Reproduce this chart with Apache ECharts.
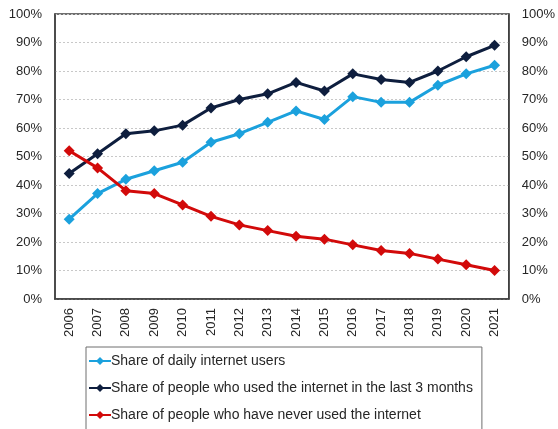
<!DOCTYPE html>
<html>
<head>
<meta charset="utf-8">
<script src="https://cdn.jsdelivr.net/npm/echarts@6/dist/echarts.min.js"></script>
<style>
  html, body { margin: 0; padding: 0; background: #fff; }
  #chart { width: 558px; height: 429px; }
</style>
</head>
<body>
<div id="chart"></div>
<script>
const years = ['2006','2007','2008','2009','2010','2011','2012','2013','2014','2015','2016','2017','2018','2019','2020','2021'];
const dailyUsers = [28, 37, 42, 45, 48, 55, 58, 62, 66, 63, 71, 69, 69, 75, 79, 82];
const last3Months = [44, 51, 58, 59, 61, 67, 70, 72, 76, 73, 79, 77, 76, 80, 85, 89];
const neverUsed = [52, 46, 38, 37, 33, 29, 26, 24, 22, 21, 19, 17, 16, 14, 12, 10];
const seriesNames = [
  'Share of daily internet users',
  'Share of people who used the internet in the last 3 months',
  'Share of people who have never used the internet'
];
const colors = ['#1ba1dd', '#0e1e3e', '#d20a0a'];

const font = 'Liberation Sans, Arial, sans-serif';
const textColor = '#262626';

function lineSeries(name, data, color) {
  return {
    name: name,
    type: 'line',
    data: data,
    symbol: 'diamond',
    symbolSize: 11,
    lineStyle: { width: 3, color: color },
    itemStyle: { color: color },
    emphasis: { disabled: true },
    z: 3
  };
}

function yAxis(position, showGrid) {
  return {
    type: 'value',
    position: position,
    min: 0,
    max: 100,
    interval: 10,
    axisLine: { show: true, lineStyle: { color: '#404040', width: 1.5 } },
    axisTick: { show: false },
    axisLabel: {
      formatter: '{value}%',
      color: textColor,
      fontFamily: font,
      fontSize: 13,
      margin: 13
    },
    splitLine: {
      show: showGrid,
      lineStyle: { color: '#c8c8c8', type: [2, 2], width: 1 }
    }
  };
}

const chart = echarts.init(document.getElementById('chart'), null, { renderer: 'canvas' });
chart.setOption({
  animation: false,
  backgroundColor: '#fff',
  grid: { left: 55, right: 49, top: 14, bottom: 130, show: true, borderColor: '#404040', borderWidth: 1.5, backgroundColor: 'transparent' },
  xAxis: {
    type: 'category',
    data: years,
    boundaryGap: true,
    axisLine: { show: true, lineStyle: { color: '#404040', width: 1.5 } },
    axisTick: { show: false },
    axisLabel: {
      rotate: 90,
      color: textColor,
      fontFamily: font,
      fontSize: 13,
      margin: 9,
      interval: 0
    },
    splitLine: { show: false }
  },
  yAxis: [yAxis('left', true), yAxis('right', false)],
  legend: {
    orient: 'vertical',
    left: 86,
    top: 347,
    width: 397,
    height: 300,
    itemGap: 13,
    itemWidth: 22,
    itemHeight: 10,
    padding: [7, 9, 40, 2],
    borderColor: '#6e6e6e',
    borderWidth: 1,
    textStyle: { color: textColor, fontFamily: font, fontSize: 14, padding: [0, 0, 0, -5] },
    data: seriesNames
  },
  series: [
    lineSeries(seriesNames[0], dailyUsers, colors[0]),
    lineSeries(seriesNames[1], last3Months, colors[1]),
    lineSeries(seriesNames[2], neverUsed, colors[2])
  ]
});
</script>
</body>
</html>
